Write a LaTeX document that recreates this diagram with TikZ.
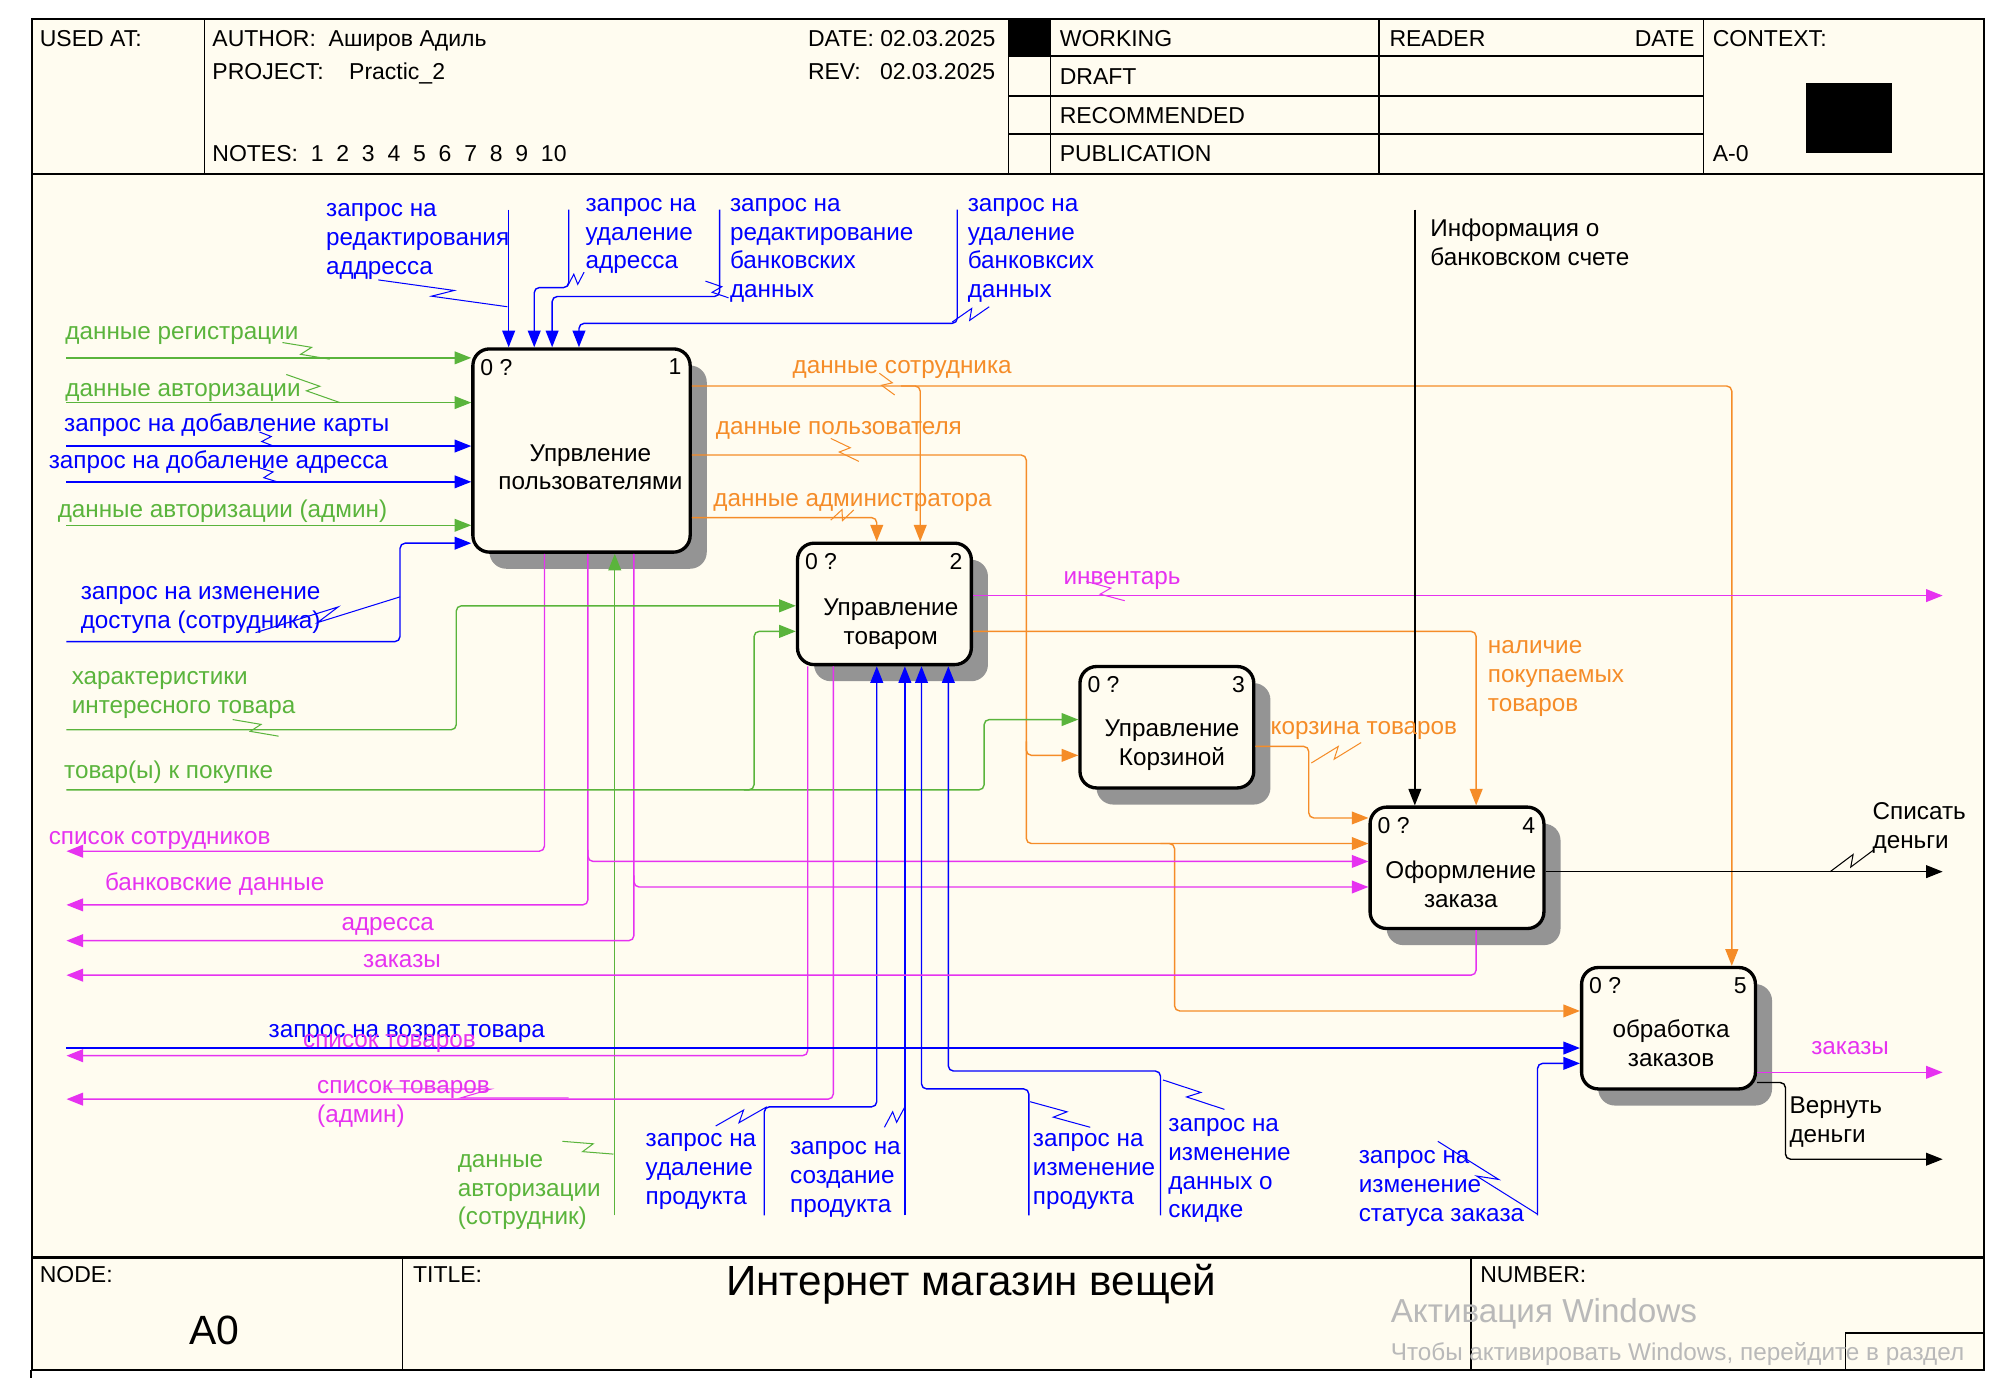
\documentclass[tikz,border=0pt]{standalone}
\usepackage{fontspec}
\setmainfont{Liberation Sans}
\usetikzlibrary{arrows.meta,calc,patterns,shadows}

\definecolor{cream}{RGB}{255,252,240}
\definecolor{idgreen}{RGB}{90,180,60}
\definecolor{idblue}{RGB}{0,0,255}
\definecolor{idorange}{RGB}{245,140,40}
\definecolor{idpink}{RGB}{230,50,240}
\definecolor{wingray}{RGB}{185,185,185}

\newcommand\lblfont{\fontsize{19}{22.5}\selectfont}
\newcommand\hdrfont{\fontsize{18}{22}\selectfont}
\newcommand\numfont{\fontsize{18}{22}\selectfont}
% squiggle between a label and its arrow
\newcommand\tld[3]{\draw[tilde,#1] #2 -- ($#2!.58!#3!4pt!90:#3$) -- ($#2!.42!#3!4pt!-90:#3$) -- #3;}

\begin{document}
\begin{tikzpicture}[x=1pt,y=-1pt,
  func/.style={draw,line width=2.6pt,rounded corners=13pt,fill=cream,inner sep=0pt,
    minimum width=136pt,minimum height=95pt,
    general shadow={shadow xshift=13pt,shadow yshift=-13pt,fill=black!42}},
  boxtxt/.style={font=\lblfont,align=center,inner sep=0pt},
  numtxt/.style={font=\numfont,inner sep=0pt},
  lbl/.style={anchor=north west,inner sep=0pt,align=left,font=\lblfont,execute at begin node=\strut,yshift=-2pt},
  mlbl/.style={lbl,yshift=-5pt},
  hdr/.style={anchor=base west,yshift=-6.5pt,inner sep=0pt,font=\hdrfont},
  flow/.style={line width=1.1pt,rounded corners=4pt,-{Triangle[length=13pt,width=10pt]}},
  gflow/.style={flow,idgreen},
  bflow/.style={flow,idblue},
  oflow/.style={flow,idorange},
  pflow/.style={flow,idpink},
  kflow/.style={flow,black},
  tilde/.style={line width=0.8pt}]

\useasboundingbox (0,0) rectangle (1568,1088);
\fill[white] (0,0) rectangle (1568,1088);

% frame
\fill[cream] (25,15) rectangle (1552,1072);
\draw[line width=1.5pt] (25,15) rectangle (1552,1072);
\draw[line width=1.5pt] (24,1072) -- (24,1078);
\draw[line width=2pt] (25,136) -- (1552,136);
\draw[line width=2pt] (25,984) -- (1552,984);
\foreach \x in {160,789,822,1079,1333}
  \draw[line width=1.2pt] (\x,15) -- (\x,136);
\foreach \y in {44,75,105}
  \draw[line width=1.2pt] (789,\y) -- (1333,\y);
\fill (789,15) rectangle (822,44);
\fill (1413,65) rectangle (1480,120);
\draw[line width=1.2pt] (315,984) -- (315,1072);
\draw[line width=1.2pt] (1151,984) -- (1151,1072);
\draw[line width=1.2pt] (1444,1072) -- (1444,1043) -- (1552,1043);

% header
\node[hdr] (usedat) at (31,30) {USED AT:};
\node[hdr] (author) at (166,30) {AUTHOR:\ \ Аширов Адиль};
\node[hdr] (project) at (166,56) {PROJECT:\ \ \ \ Practic\_2};
\node[hdr] (notes) at (166,120) {NOTES:\ \ 1\ \ 2\ \ 3\ \ 4\ \ 5\ \ 6\ \ 7\ \ 8\ \ 9\ \ 10};
\node[hdr] (date) at (632,30) {DATE: 02.03.2025};
\node[hdr] (rev) at (632,56) {REV:\ \ \ 02.03.2025};
\node[hdr] (working) at (829,30) {WORKING};
\node[hdr] (draft) at (829,60) {DRAFT};
\node[hdr] (recom) at (829,90) {RECOMMENDED};
\node[hdr] (public) at (829,120) {PUBLICATION};
\node[hdr] (reader) at (1087,30) {READER};
\node[hdr,anchor=base east] (rdate) at (1326,30) {DATE};
\node[hdr] (context) at (1340,30) {CONTEXT:};
\node[hdr] (anull) at (1340,120) {A-0};

% footer
\node[hdr] (nodelbl) at (31,997) {NODE:};
\node[hdr] (titlelbl) at (323,997) {TITLE:};
\node[hdr] (numberlbl) at (1158,997) {NUMBER:};
\node[font=\fontsize{32}{36}\selectfont,inner sep=0pt] (nodeA) at (168,1041) {A0};
\node[font=\fontsize{33}{36}\selectfont,inner sep=0pt] (title) at (760,1005) {Интернет магазин вещей};
\node[hdr,text=wingray,font=\fontsize{26}{30}\selectfont] (win1) at (1088,1028) {Активация Windows};
\node[hdr,text=wingray,font=\fontsize{19}{22}\selectfont] (win2) at (1088,1058) {Чтобы активировать Windows, перейдите в раздел};

% function boxes
\node[func,minimum width=170pt,minimum height=159pt] (b1) at (455,352.5) {};
\node[func] (b2) at (692,472.5) {};
\node[func] (b3) at (913,569) {};
\node[func] (b4) at (1140,679) {};
\node[func] (b5) at (1305.5,804.5) {};

\node[boxtxt] (b1t) at ($(b1.center)+(7,13)$) {Упрвление\\пользователями};
\node[boxtxt] (b2t) at ($(b2.center)+(5,16)$) {Управление\\товаром};
\node[boxtxt] (b3t) at ($(b3.center)+(4,14)$) {Управление\\Корзиной};
\node[boxtxt] (b4t) at ($(b4.center)+(3,13)$) {Оформление\\заказа};
\node[boxtxt] (b5t) at ($(b5.center)+(2,12)$) {обработка\\заказов};
\foreach \b/\n in {b1/1,b2/2,b3/3,b4/4,b5/5} {
  \node[numtxt,anchor=north west] (\b-q) at ($(\b.north west)+(7,9)$) {0 ?};
  \node[numtxt,anchor=north east] (\b-n) at ($(\b.north east)+(-8,9)$) {\n};
}

% controls of box 1
\draw[bflow] (398,164) -- (b1.north -| 398,0);
\draw[bflow] (445,164) -- (445,225) -- (418,225) -- (b1.north -| 418,0);
\draw[bflow] (563,164) -- (563,232) -- (432,232) -- (b1.north -| 432,0);
\draw[bflow] (749,164) -- (749,253) -- (453,253) -- (b1.north -| 453,0);

% inputs of box 1
\draw[gflow] (52,280) -- (b1.west |- 0,280);
\draw[gflow] (52,315) -- (b1.west |- 0,315);
\draw[bflow] (52,349) -- (b1.west |- 0,349);
\draw[bflow] (52,377) -- (b1.west |- 0,377);
\draw[gflow] (52,411) -- (b1.west |- 0,411);
\draw[bflow] (52,502) -- (313,502) -- (313,425) -- (b1.west |- 0,425);
\draw[gflow] (481,951) -- (b1.south -| 481,0);

% outputs of box 1
\draw[oflow] (b1.east |- 0,302) -- (1355,302) -- (b5.north -| 1355,0);
\draw[oflow] (705,302) -- (720,302) -- (b2.north -| 720,0);
\draw[oflow] (b1.east |- 0,356) -- (803,356) -- (803,660) -- (b4.west |- 0,660);
\draw[oflow] (803,580) -- (803,591) -- (b3.west |- 0,591);
\draw[oflow] (908,660) -- (919,660) -- (919,791) -- (b5.west |- 0,791);
\draw[oflow] (b1.east |- 0,405) -- (686,405) -- (b2.north -| 686,0);
\draw[pflow] (b1.south -| 426,0) -- (426,666) -- (52,666);
\draw[pflow] (b1.south -| 460,0) -- (460,708) -- (52,708);
\draw[pflow] (460,665) -- (460,674) -- (b4.west |- 0,674);
\draw[pflow] (b1.south -| 496,0) -- (496,736) -- (52,736);
\draw[pflow] (496,685) -- (496,694) -- (b4.west |- 0,694);

% box 2
\draw[gflow] (52,571) -- (357,571) -- (357,474) -- (b2.west |- 0,474);
\draw[gflow] (52,618) -- (770,618) -- (770,563) -- (b3.west |- 0,563);
\draw[gflow] (582,618) -- (590,618) -- (590,494) -- (b2.west |- 0,494);
\draw[pflow] (b2.east |- 0,466) -- (1520,466);
\draw[oflow] (b2.east |- 0,494) -- (1155,494) -- (b4.north -| 1155,0);
\draw[pflow] (b2.south -| 632,0) -- (632,826) -- (52,826);
\draw[pflow] (b2.south -| 652,0) -- (652,860) -- (52,860);
\draw[bflow] (598,951) -- (598,866) -- (686,866) -- (b2.south -| 686,0);
\draw[bflow] (708,951) -- (b2.south -| 708,0);
\draw[bflow] (805,951) -- (805,852) -- (721,852) -- (b2.south -| 721,0);
\draw[bflow] (908,951) -- (908,838) -- (742,838) -- (b2.south -| 742,0);

% box 3
\draw[oflow] (b3.east |- 0,584) -- (1024,584) -- (1024,640) -- (b4.west |- 0,640);

% box 4
\draw[kflow] (1107,164) -- (b4.north -| 1107,0);
\draw[kflow] (b4.east |- 0,682) -- (1520,682);
\draw[pflow] (b4.south -| 1155,0) -- (1155,763) -- (52,763);

% box 5
\draw[bflow] (52,820) -- (b5.west |- 0,820);
\draw[bflow] (1203,951) -- (1203,832) -- (b5.west |- 0,832);
\draw[pflow] (b5.east |- 0,839) -- (1520,839);
\draw[kflow] (b5.east |- 0,847) -- (1397,847) -- (1397,907) -- (1520,907);

% arrow labels
\node[mlbl,idblue] (lredadr) at (255,152) {запрос на\\редактирования\\аддресса};
\node[mlbl,idblue] (ldeladr) at (458,148) {запрос на\\удаление\\адресса};
\node[mlbl,idblue] (lredbank) at (571,148) {запрос на\\редактирование\\банковских\\данных};
\node[mlbl,idblue] (ldelbank) at (757,148) {запрос на\\удаление\\банковксих\\данных};
\node[mlbl] (linfo) at (1119,164) {Информация о\\банковском счете};
\node[lbl,idgreen] (lreg) at (51,248) {данные регистрации};
\node[lbl,idgreen] (lauth) at (51,292) {данные авторизации};
\node[lbl,idblue] (lcard) at (50,320) {запрос на добавление карты};
\node[lbl,idblue] (laddadr) at (38,349) {запрос на добаление адресса};
\node[lbl,idgreen] (lauthadm) at (45,387) {данные авторизации (админ)};
\node[mlbl,idblue] (laccess) at (63,452) {запрос на изменение\\доступа (сотрудника)};
\node[mlbl,idgreen] (lfeat) at (56,518) {характеристики\\интересного товара};
\node[lbl,idgreen] (lbuy) at (50,591) {товар(ы) к покупке};
\node[lbl,idpink] (lstaff) at (38,643) {список сотрудников};
\node[lbl,idpink] (lbank) at (82,679) {банковские данные};
\node[lbl,idpink] (ladr) at (267,710) {адресса};
\node[lbl,idpink] (lord) at (284,739) {заказы};
\node[lbl,idblue] (lreturn) at (210,794) {запрос на возрат товара};
\node[lbl,idpink] (lgoods) at (237,802) {список товаров};
\node[mlbl,idpink] (lgoodsadm) at (248,838) {список товаров\\(админ)};
\node[mlbl,idgreen] (lauthemp) at (358,896) {данные\\авторизации\\(сотрудник)};
\node[mlbl,idblue] (ldelprod) at (505,880) {запрос на\\удаление\\продукта};
\node[mlbl,idblue] (lnewprod) at (618,886) {запрос на\\создание\\продукта};
\node[mlbl,idblue] (lchprod) at (808,880) {запрос на\\изменение\\продукта};
\node[mlbl,idblue] (ldisc) at (914,868) {запрос на\\изменение\\данных о\\скидке};
\node[mlbl,idblue] (lstatus) at (1063,893) {запрос на\\изменение\\статуса заказа};
\node[lbl,idorange] (lempdata) at (620,274) {данные сотрудника};
\node[lbl,idorange] (luserdata) at (560,322) {данные пользователя};
\node[lbl,idorange] (ladmdata) at (558,378) {данные администратора};
\node[lbl,idpink] (linv) at (832,439) {инвентарь};
\node[mlbl,idorange] (lavail) at (1164,494) {наличие\\покупаемых\\товаров};
\node[lbl,idorange] (lcart) at (994,557) {корзина товаров};
\node[mlbl] (lcharge) at (1465,621) {Списать\\деньги};
\node[lbl,idpink] (lord2) at (1417,807) {заказы};
\node[mlbl] (lrefund) at (1400,851) {Вернуть\\деньги};

% squiggles
\tld{idblue}{(296,219)}{(397,240)}
\tld{idblue}{(457,213)}{(444,224)}
\tld{idblue}{(570,233)}{(552,220)}
\tld{idblue}{(774,240)}{(745,252)}
\tld{idgreen}{(221,268)}{(258,281)}
\tld{idgreen}{(224,293)}{(266,315)}
\tld{idblue}{(203,338)}{(214,349)}
\tld{idblue}{(203,366)}{(217,377)}
\tld{idblue}{(200,495)}{(313,467)}
\tld{idgreen}{(182,563)}{(218,576)}
\tld{idgreen}{(440,893)}{(480,903)}
\tld{idorange}{(688,292)}{(700,309)}
\tld{idorange}{(650,343)}{(672,361)}
\tld{idorange}{(650,407)}{(668,399)}
\tld{idpink}{(850,455)}{(880,470)}
\tld{idorange}{(1026,597)}{(1065,581)}
\tld{black}{(1432,682)}{(1466,665)}
\tld{idpink}{(300,852)}{(445,859)}
\tld{idblue}{(560,881)}{(600,866)}
\tld{idblue}{(692,882)}{(708,866)}
\tld{idblue}{(806,862)}{(853,882)}
\tld{idblue}{(910,845)}{(958,868)}
\tld{idblue}{(1125,893)}{(1203,950)}
\end{tikzpicture}
\end{document}
